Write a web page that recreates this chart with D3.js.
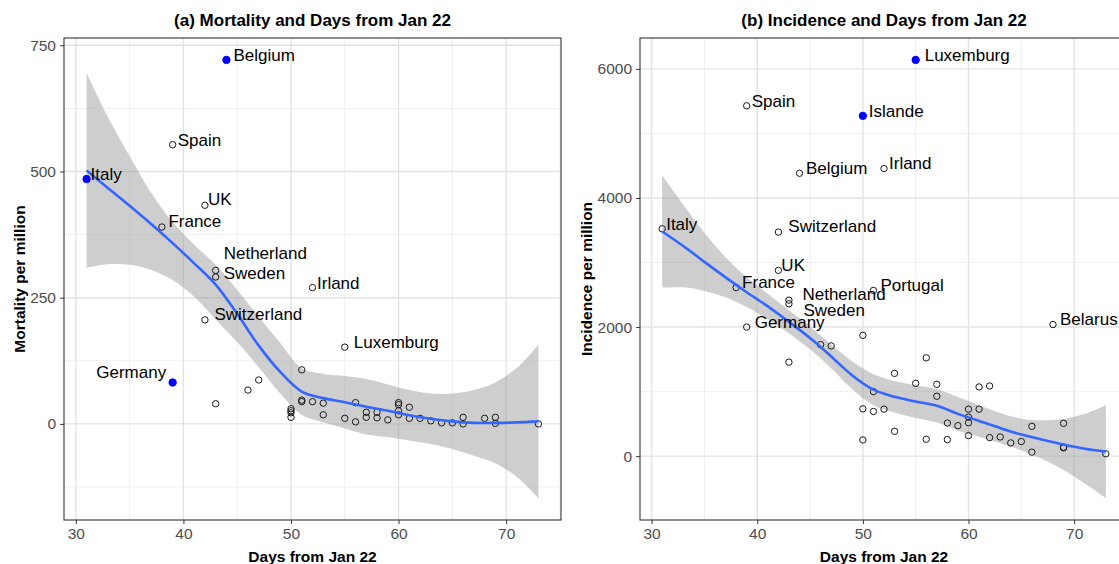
<!DOCTYPE html>
<html>
<head>
<meta charset="utf-8">
<script src="https://cdn.jsdelivr.net/npm/d3@7/dist/d3.min.js"></script>
<style>
  body { margin: 0; background: #fff; }
  svg { display: block; font-family: "Liberation Sans", Arial, Helvetica, sans-serif; }
</style>
</head>
<body>
<svg id="chart" width="1119" height="564"></svg>
<script>
// ---- data ----
var mortDays   = [31, 44, 39, 42, 38, 43, 43, 52, 42, 55, 39,
                  43, 46, 47, 51, 50, 50, 50, 50, 51, 51, 52, 53, 53, 55, 56, 56, 57, 57, 58, 58, 59,
                  60, 60, 60, 60, 61, 61, 62, 63, 64, 65, 66, 66, 68, 69, 69, 73];
var mortValues = [485, 721, 553, 433, 390, 304, 291, 270, 206, 152, 82,
                  40, 67, 87, 107, 30, 26, 22, 13, 47, 44, 44, 41, 18, 11, 42, 4, 23, 13, 23, 12, 8,
                  42, 38, 26, 18, 33, 11, 11, 6, 2, 2, 13, 0, 11, 13, 1, 0];
var mortLabels = ["Italy", "Belgium", "Spain", "UK", "France", "Netherland", "Sweden", "Irland",
                  "Switzerland", "Luxemburg", "Germany"];
var mortHighlight = ["Italy", "Belgium", "Germany"];

var incDays   = [31, 39, 55, 50, 44, 52, 42, 42, 38, 51, 43, 43, 39, 68,
                 43, 46, 47, 50, 56, 53, 55, 57, 57, 61, 62, 51, 50, 51, 52, 53, 50, 56, 58, 58, 59,
                 60, 60, 60, 60, 61, 62, 63, 64, 65, 66, 66, 69, 69, 69, 73];
var incValues = [3522, 5428, 6139, 5272, 4383, 4456, 3472, 2878, 2611, 2567, 2417, 2361, 2000, 2039,
                 1456, 1728, 1708, 1872, 1523, 1282, 1128, 1113, 928, 1072, 1087, 1000, 733, 692, 728, 385, 251, 262, 513, 256, 472,
                 728, 605, 518, 318, 728, 287, 297, 205, 226, 462, 62, 508, 138, 128, 36];
var incLabels = ["Italy", "Spain", "Luxemburg", "Islande", "Belgium", "Irland", "Switzerland", "UK",
                 "France", "Portugal", "Netherland", "Sweden", "Germany", "Belarus"];
var incHighlight = ["Luxemburg", "Islande"];

// loess fit with its confidence band, read at these days
var smoothDays = [31, 33, 35, 37, 39, 41, 43, 45, 47, 49, 51, 53, 55, 57, 59, 61, 63, 65, 67, 69, 71, 73];
var mortFit = [502, 467, 432, 396, 358, 318, 276, 218, 155, 103, 64, 51, 43, 34, 26, 17, 10, 5, 2, 2, 3, 5];
var mortHi  = [695, 607, 530, 458, 400, 355, 315, 265, 212, 160, 110, 99, 95, 89, 78, 67, 60, 60, 67, 82, 111, 157];
var mortLo  = [309, 316, 315, 305, 285, 252, 207, 162, 112, 60, 18, 3, -9, -21, -26, -33, -40, -50, -63, -78, -105, -147];
var incFit = [3481, 3255, 3010, 2770, 2540, 2320, 2080, 1830, 1545, 1250, 1030, 920, 845, 780, 655, 545, 435, 335, 255, 180, 115, 70];
var incHi  = [4351, 3895, 3460, 3080, 2770, 2515, 2260, 2005, 1730, 1465, 1270, 1165, 1100, 1040, 915, 790, 670, 580, 555, 575, 655, 790];
var incLo  = [2611, 2615, 2560, 2460, 2310, 2125, 1900, 1655, 1360, 1035, 790, 675, 590, 520, 395, 300, 200, 90, -45, -215, -425, -650];

var xTicks = [30, 40, 50, 60, 70];
var xMinor = [35, 45, 55, 65, 75];
var mortTicks = [0, 250, 500, 750];
var mortMinor = [-125, 125, 375, 625];
var incTicks = [0, 2000, 4000, 6000];
var incMinor = [1000, 3000, 5000];

// label placement (pixels from the point)
var mortNudge = {
    "Italy": [4, -5], "Belgium": [7, -5], "Spain": [5, -5], "UK": [3, -6], "France": [6.5, -6],
    "Netherland": [8, -17], "Sweden": [8, -4], "Irland": [4.5, -5], "Switzerland": [9.5, -5.5],
    "Luxemburg": [9, -5], "Germany": [-6.5, -10]
};
var incNudge = {
    "Luxemburg": [9, -5], "Spain": [5, -5], "Islande": [6, -5], "Belgium": [6.5, -5], "Irland": [5, -5],
    "Italy": [4, -5], "Switzerland": [10, -5.5], "UK": [3, -5], "France": [6, -5.5], "Portugal": [7, -5],
    "Netherland": [13.5, -6.5], "Sweden": [14.5, 6], "Germany": [8, -5], "Belarus": [7, -5]
};

var svg = d3.select("#chart");

function Panel(id, box, opts) {
    var g = svg.append("g");

    var points = opts.days.map(function(d, i) {
        return { day: d, value: opts.values[i], label: opts.labels[i] || "" };
    });
    var band = smoothDays.map(function(d, i) {
        return { day: d, fit: opts.fit[i], lo: opts.lo[i], hi: opts.hi[i] };
    });

    // ggplot style 5% expansion
    var xExt = d3.extent(opts.days);
    var yMin = d3.min([d3.min(opts.values), d3.min(opts.lo)]);
    var yMax = d3.max([d3.max(opts.values), d3.max(opts.hi)]);
    var xPad = (xExt[1] - xExt[0]) * 0.05, yPad = (yMax - yMin) * 0.05;

    var xScale = d3.scaleLinear().domain([xExt[0] - xPad, xExt[1] + xPad]).range([box.left, box.right]);
    var yScale = d3.scaleLinear().domain([yMin - yPad, yMax + yPad]).range([box.bottom, box.top]);

    svg.append("clipPath").attr("id", id + "-clip")
        .append("rect")
        .attr("x", box.left).attr("y", box.top)
        .attr("width", box.right - box.left).attr("height", box.bottom - box.top);

    var inner = g.append("g").attr("clip-path", "url(#" + id + "-clip)");

    inner.append("rect")
        .attr("x", box.left).attr("y", box.top)
        .attr("width", box.right - box.left).attr("height", box.bottom - box.top)
        .attr("fill", "#ffffff");

    // grid
    inner.selectAll(".minx").data(xMinor).enter().append("line")
        .attr("x1", xScale).attr("x2", xScale).attr("y1", box.top).attr("y2", box.bottom)
        .attr("stroke", "#ebebeb").attr("stroke-width", 0.8);
    inner.selectAll(".miny").data(opts.minor).enter().append("line")
        .attr("y1", yScale).attr("y2", yScale).attr("x1", box.left).attr("x2", box.right)
        .attr("stroke", "#ebebeb").attr("stroke-width", 0.8);
    inner.selectAll(".majx").data(xTicks).enter().append("line")
        .attr("x1", xScale).attr("x2", xScale).attr("y1", box.top).attr("y2", box.bottom)
        .attr("stroke", "#e3e3e3").attr("stroke-width", 1.4);
    inner.selectAll(".majy").data(opts.ticks).enter().append("line")
        .attr("y1", yScale).attr("y2", yScale).attr("x1", box.left).attr("x2", box.right)
        .attr("stroke", "#e3e3e3").attr("stroke-width", 1.4);

    // confidence band
    var area = d3.area()
        .x(function(d) { return xScale(d.day); })
        .y0(function(d) { return yScale(d.lo); })
        .y1(function(d) { return yScale(d.hi); })
        .curve(d3.curveCatmullRom);
    inner.append("path").datum(band)
        .attr("d", area)
        .attr("fill", "#999999").attr("fill-opacity", 0.48);

    // points
    inner.selectAll(".pt").data(points).enter().append("circle")
        .attr("class", "pt")
        .attr("cx", function(d) { return xScale(d.day); })
        .attr("cy", function(d) { return yScale(d.value); })
        .attr("r", function(d) { return opts.highlight.indexOf(d.label) >= 0 ? 3.7 : 3.2; })
        .attr("fill", function(d) { return opts.highlight.indexOf(d.label) >= 0 ? "#0000ff" : "none"; })
        .attr("stroke", function(d) { return opts.highlight.indexOf(d.label) >= 0 ? "#0000ff" : "#1a1a1a"; })
        .attr("stroke-width", 1);

    // fitted line
    var line = d3.line()
        .x(function(d) { return xScale(d.day); })
        .y(function(d) { return yScale(d.fit); })
        .curve(d3.curveCatmullRom);
    inner.append("path").datum(band)
        .attr("d", line)
        .attr("fill", "none").attr("stroke", "#3366ff").attr("stroke-width", 2.6);

    // labels
    inner.selectAll(".lab").data(points.filter(function(d) { return d.label !== ""; })).enter()
        .append("text")
        .attr("x", function(d) { return xScale(d.day) + opts.nudge[d.label][0]; })
        .attr("y", function(d) { return yScale(d.value) + opts.nudge[d.label][1]; })
        .attr("dy", "0.35em")
        .attr("text-anchor", function(d) { return opts.nudge[d.label][0] < 0 ? "end" : "start"; })
        .style("font-size", "17px")
        .attr("fill", "#000")
        .text(function(d) { return d.label; });

    // panel border
    g.append("rect")
        .attr("x", box.left).attr("y", box.top)
        .attr("width", box.right - box.left).attr("height", box.bottom - box.top)
        .attr("fill", "none").attr("stroke", "#333333").attr("stroke-width", 1.1);

    // axes
    var xAxis = g.append("g").attr("transform", "translate(0," + box.bottom + ")")
        .call(d3.axisBottom(xScale).tickValues(xTicks).tickSize(4).tickPadding(4));
    var yAxis = g.append("g").attr("transform", "translate(" + box.left + ",0)")
        .call(d3.axisLeft(yScale).tickValues(opts.ticks).tickSize(4).tickPadding(4).tickFormat(d3.format("d")));
    [xAxis, yAxis].forEach(function(a) {
        a.select(".domain").remove();
        a.selectAll(".tick line").attr("stroke", "#333333");
        a.selectAll(".tick text").attr("fill", "#4d4d4d").style("font-size", "15.5px")
            .style("font-family", "Liberation Sans, Arial, sans-serif");
    });

    var cx = (box.left + box.right) / 2;
    g.append("text")
        .attr("x", cx).attr("y", 20).attr("dy", "0.35em")
        .attr("text-anchor", "middle")
        .style("font-size", "17px").style("font-weight", "bold")
        .text(opts.title);
    g.append("text")
        .attr("x", cx).attr("y", 557).attr("dy", "0.35em")
        .attr("text-anchor", "middle")
        .style("font-size", "15.5px").style("font-weight", "bold")
        .text("Days from Jan 22");
    g.append("text")
        .attr("transform", "translate(" + opts.yTitleX + "," + ((box.top + box.bottom) / 2) + ") rotate(-90)")
        .attr("dy", "0.35em")
        .attr("text-anchor", "middle")
        .style("font-size", "15.5px").style("font-weight", "bold")
        .text(opts.yTitle);
}

new Panel("mort", { left: 64, right: 561, top: 38, bottom: 520 }, {
    days: mortDays, values: mortValues, labels: mortLabels, highlight: mortHighlight,
    fit: mortFit, lo: mortLo, hi: mortHi, ticks: mortTicks, minor: mortMinor, nudge: mortNudge,
    title: "(a) Mortality and Days from Jan 22", yTitle: "Mortality per million", yTitleX: 20
});

new Panel("inc", { left: 640, right: 1128, top: 38, bottom: 520 }, {
    days: incDays, values: incValues, labels: incLabels, highlight: incHighlight,
    fit: incFit, lo: incLo, hi: incHi, ticks: incTicks, minor: incMinor, nudge: incNudge,
    title: "(b) Incidence and Days from Jan 22", yTitle: "Incidence per million", yTitleX: 587
});
</script>
</body>
</html>
